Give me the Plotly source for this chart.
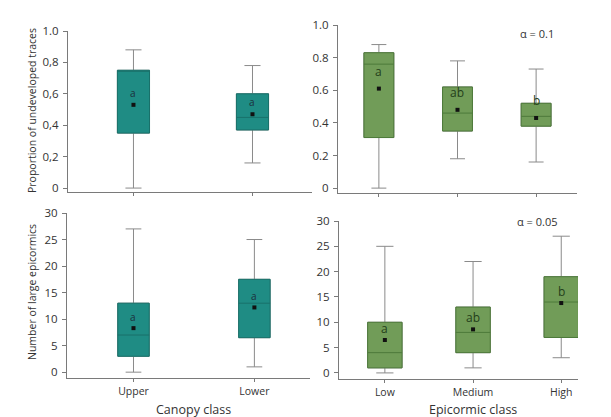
import plotly.graph_objects as go

# ---------------- data ----------------
canopy_classes = ["Upper", "Lower"]
epicormic_classes = ["Low", "Medium", "High"]

# Proportion of undeveloped traces by canopy class
prop_can_min = [0.00, 0.16]
prop_can_q1 = [0.35, 0.37]
prop_can_med = [0.75, 0.45]
prop_can_q3 = [0.75, 0.60]
prop_can_max = [0.88, 0.78]
prop_can_mean = [0.53, 0.47]
prop_can_letters = ["a", "a"]

# Proportion of undeveloped traces by epicormic class
prop_epi_min = [0.00, 0.18, 0.16]
prop_epi_q1 = [0.31, 0.35, 0.38]
prop_epi_med = [0.76, 0.46, 0.44]
prop_epi_q3 = [0.83, 0.62, 0.52]
prop_epi_max = [0.88, 0.78, 0.73]
prop_epi_mean = [0.61, 0.48, 0.43]
prop_epi_letters = ["a", "ab", "b"]

# Number of large epicormics by canopy class
num_can_min = [0, 1]
num_can_q1 = [3, 6.5]
num_can_med = [7, 13]
num_can_q3 = [13, 17.5]
num_can_max = [27, 25]
num_can_mean = [8.3, 12.2]
num_can_letters = ["a", "a"]

# Number of large epicormics by epicormic class
num_epi_min = [0, 1, 3]
num_epi_q1 = [1, 4, 7]
num_epi_med = [4, 8, 14]
num_epi_q3 = [10, 13, 19]
num_epi_max = [25, 22, 27]
num_epi_mean = [6.5, 8.6, 13.8]
num_epi_letters = ["a", "ab", "b"]

prop_ticks = [0, 0.2, 0.4, 0.6, 0.8, 1.0]
prop_ticktext_left = ["0", "0,2", "0,4", "0,6", "0,8", "1.0"]
prop_ticktext_right = ["0", "0.2", "0.4", "0.6", "0.8", "1.0"]
num_ticks = [0, 5, 10, 15, 20, 25, 30]

# ---------------- style ----------------
TEAL = "#1f8c84"
TEAL_DARK = "#19716a"
GREEN = "#719c58"
GREEN_DARK = "#4d7a3a"
WHISK = "#8a8a8a"
AX = "#7a7a7a"
FONT = "Open Sans"
TXT = "#333333"

fig = go.Figure()


def add_panel(xa, ya, cats, mn, q1, med, q3, mx, mean, letters, fill, dark, width, lsize, lshift, lcolor):
    # whiskers + box fill (gray lines)
    fig.add_trace(go.Box(
        x=cats, lowerfence=mn, q1=q1, median=med, q3=q3, upperfence=mx,
        fillcolor=fill, line=dict(color=WHISK, width=1), whiskerwidth=0.5,
        width=width, boxpoints=False, hoverinfo="skip", showlegend=False,
        xaxis=xa, yaxis=ya))
    # box outline and median (colored), whiskers collapsed
    fig.add_trace(go.Box(
        x=cats, lowerfence=q1, q1=q1, median=med, q3=q3, upperfence=q3,
        fillcolor=fill, line=dict(color=dark, width=1), whiskerwidth=0,
        width=width, boxpoints=False, hoverinfo="skip", showlegend=False,
        xaxis=xa, yaxis=ya))
    # means
    fig.add_trace(go.Scatter(
        x=cats, y=mean, mode="markers",
        marker=dict(color="#111111", size=4, symbol="square"),
        hoverinfo="skip", showlegend=False, xaxis=xa, yaxis=ya))
    for c, m, t in zip(cats, mean, letters):
        fig.add_annotation(x=c, y=m, text=t, showarrow=False, xref=xa, yref=ya,
                           xanchor="center", yanchor="middle",
                           yshift=lshift, font=dict(size=lsize, color=lcolor, family=FONT))


add_panel("x", "y", canopy_classes, prop_can_min, prop_can_q1, prop_can_med, prop_can_q3,
          prop_can_max, prop_can_mean, prop_can_letters, TEAL, TEAL_DARK, 0.27, 10, 12, "#1c2f3a")
add_panel("x2", "y2", epicormic_classes, prop_epi_min, prop_epi_q1, prop_epi_med, prop_epi_q3,
          prop_epi_max, prop_epi_mean, prop_epi_letters, GREEN, GREEN_DARK, 0.38, 12, 17, "#24401a")
add_panel("x3", "y3", canopy_classes, num_can_min, num_can_q1, num_can_med, num_can_q3,
          num_can_max, num_can_mean, num_can_letters, TEAL, TEAL_DARK, 0.26, 10, 11, "#1c2f3a")
add_panel("x4", "y4", epicormic_classes, num_epi_min, num_epi_q1, num_epi_med, num_epi_q3,
          num_epi_max, num_epi_mean, num_epi_letters, GREEN, GREEN_DARK, 0.39, 12, 12, "#24401a")

# page has an 8px body margin; figure sized so it fits the 611x417 window
OFF = 8
W, H = 611 - OFF, 417 - OFF


def px(x):
    return (x - OFF) / W


def py(y):
    return 1 - (y - OFF) / H


def dom_x(a, b):
    return [px(a), px(b)]


def dom_y(top, bottom):
    return [py(bottom), py(top)]


tickfont = dict(size=11.5, color=TXT, family=FONT)
xbase = dict(type="category", showline=True, linecolor=AX, linewidth=1.3, ticks="outside",
             ticklen=3, tickcolor=AX, showgrid=False, zeroline=False, fixedrange=True,
             automargin=False, tickfont=dict(size=10.5, color=TXT, family=FONT))
ybase = dict(showline=True, linecolor=AX, linewidth=1.3, ticks="outside", ticklen=4,
             tickcolor=AX, showgrid=False, zeroline=False, tickfont=tickfont, ticklabelstandoff=2,
             automargin=False)

fig.update_layout(
    template="none",
    width=W, height=H, margin=dict(l=0, r=0, t=0, b=0, pad=0, autoexpand=False),
    paper_bgcolor="white", plot_bgcolor="white",
    font=dict(family=FONT), boxmode="overlay", showlegend=False,
    xaxis=dict(xbase, domain=dom_x(68, 312), range=[-0.55, 1.5], anchor="y", showticklabels=False),
    yaxis=dict(ybase, domain=dom_y(31, 192), range=[-0.025, 1.0], anchor="x",
               tickvals=prop_ticks, ticktext=prop_ticktext_left),
    xaxis2=dict(xbase, domain=dom_x(338, 577), range=[-0.52, 2.52], anchor="y2", showticklabels=False),
    yaxis2=dict(ybase, domain=dom_y(25, 193), range=[-0.03, 1.0], anchor="x2",
                tickvals=prop_ticks, ticktext=prop_ticktext_right),
    xaxis3=dict(xbase, domain=dom_x(67, 310), range=[-0.55, 1.46], anchor="y3"),
    yaxis3=dict(ybase, domain=dom_y(213, 378), range=[-1.1, 30], anchor="x3", tickvals=num_ticks),
    xaxis4=dict(xbase, domain=dom_x(339, 578), range=[-0.52, 2.19], anchor="y4"),
    yaxis4=dict(ybase, domain=dom_y(221, 379), range=[-1.2, 30], anchor="x4", tickvals=num_ticks),
)

title_font = dict(size=10.5, color=TXT, family=FONT)
xt_font = dict(size=12.5, color=TXT, family=FONT)
alpha_font = dict(size=11, color=TXT, family=FONT)


def paper_text(text, x, y, font, angle=0):
    fig.add_annotation(text=text, xref="paper", yref="paper", x=px(x), y=py(y),
                       textangle=angle, showarrow=False, xanchor="center", yanchor="middle",
                       font=font)


paper_text("Proportion of undeveloped traces", 32, 111, title_font, -90)
paper_text("Number of large epicormics", 32, 292, title_font, -90)
paper_text("Canopy class", 193, 409, xt_font)
paper_text("Epicormic class", 473, 409, xt_font)
paper_text("α = 0.1", 537, 34, alpha_font)
paper_text("α = 0.05", 537, 221, alpha_font)

fig.write_html("out.html")
